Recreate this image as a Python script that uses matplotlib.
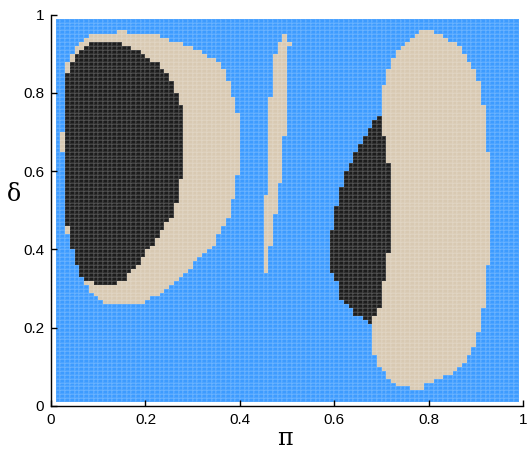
import numpy as np
import matplotlib
matplotlib.use("Agg")
import matplotlib.pyplot as plt
from matplotlib.colors import ListedColormap

# grid of the parameter scan (cell edges)
pi_edges = np.round(np.arange(0.01, 0.995, 0.01), 2)
delta_edges = np.round(np.arange(0.01, 0.995, 0.01), 2)

# each region: top row (lower edge in delta), then one (lo, hi) pi range per row going down
left_tan_top = 0.95
left_tan_lo = [0.14, 0.08, 0.07, 0.06, 0.05, 0.05, 0.04, 0.04, 0.03, 0.03,
               0.03, 0.03, 0.03, 0.03, 0.03, 0.03, 0.03, 0.03, 0.03, 0.03,
               0.03, 0.03, 0.03, 0.03, 0.03, 0.03, 0.02, 0.02, 0.02, 0.02,
               0.02, 0.03, 0.03, 0.03, 0.03, 0.03, 0.03, 0.03, 0.03, 0.03,
               0.03, 0.03, 0.03, 0.03, 0.03, 0.03, 0.03, 0.03, 0.03, 0.03,
               0.03, 0.03, 0.04, 0.04, 0.04, 0.04, 0.05, 0.05, 0.05, 0.05,
               0.06, 0.06, 0.06, 0.07, 0.07, 0.08, 0.08, 0.09, 0.10, 0.11]
left_tan_hi = [0.16, 0.23, 0.25, 0.28, 0.30, 0.32, 0.33, 0.35, 0.36, 0.36,
               0.37, 0.37, 0.37, 0.38, 0.38, 0.38, 0.38, 0.39, 0.39, 0.39,
               0.39, 0.40, 0.40, 0.40, 0.40, 0.40, 0.40, 0.40, 0.40, 0.40,
               0.40, 0.40, 0.40, 0.40, 0.40, 0.40, 0.40, 0.39, 0.39, 0.39,
               0.39, 0.39, 0.39, 0.38, 0.38, 0.38, 0.38, 0.38, 0.37, 0.37,
               0.36, 0.36, 0.35, 0.35, 0.35, 0.34, 0.33, 0.32, 0.31, 0.30,
               0.30, 0.29, 0.28, 0.27, 0.26, 0.25, 0.24, 0.23, 0.21, 0.20, 0.19]

left_black_top = 0.92
left_black_lo = [0.08, 0.07, 0.06, 0.05, 0.05, 0.04, 0.04, 0.04, 0.03, 0.03,
                 0.03, 0.03, 0.03, 0.03, 0.03, 0.03, 0.03, 0.03, 0.03, 0.03,
                 0.03, 0.03, 0.03, 0.03, 0.03, 0.03, 0.03, 0.03, 0.03, 0.03,
                 0.03, 0.03, 0.03, 0.03, 0.03, 0.03, 0.03, 0.03, 0.03, 0.03,
                 0.03, 0.03, 0.03, 0.03, 0.03, 0.03, 0.03, 0.04, 0.04, 0.04,
                 0.04, 0.04, 0.04, 0.05, 0.05, 0.05, 0.05, 0.06, 0.06, 0.06,
                 0.07, 0.09]
left_black_hi = [0.15, 0.17, 0.19, 0.20, 0.21, 0.23, 0.23, 0.24, 0.25, 0.25,
                 0.26, 0.26, 0.26, 0.27, 0.27, 0.27, 0.28, 0.28, 0.28, 0.28,
                 0.28, 0.28, 0.28, 0.28, 0.28, 0.28, 0.28, 0.28, 0.28, 0.28,
                 0.28, 0.28, 0.28, 0.28, 0.28, 0.27, 0.27, 0.27, 0.27, 0.27,
                 0.27, 0.26, 0.26, 0.26, 0.26, 0.25, 0.24, 0.24, 0.23, 0.23,
                 0.22, 0.22, 0.21, 0.20, 0.20, 0.19, 0.19, 0.18, 0.17, 0.16,
                 0.16, 0.14]

sliver_top = 0.94
sliver_lo = [0.49, 0.49, 0.48, 0.48, 0.48, 0.47, 0.47, 0.47, 0.47, 0.47,
             0.47, 0.47, 0.47, 0.47, 0.47, 0.47, 0.46, 0.46, 0.46, 0.46,
             0.46, 0.46, 0.46, 0.46, 0.46, 0.46, 0.46, 0.46, 0.46, 0.46,
             0.46, 0.46, 0.46, 0.46, 0.46, 0.46, 0.46, 0.46, 0.46, 0.46,
             0.46, 0.45, 0.45, 0.45, 0.45, 0.45, 0.45, 0.45, 0.45, 0.45,
             0.45, 0.45, 0.45, 0.45, 0.45, 0.45, 0.45, 0.45, 0.45, 0.45, 0.45]
sliver_hi = [0.50, 0.50, 0.51, 0.50, 0.50, 0.50, 0.50, 0.50, 0.50, 0.50,
             0.50, 0.50, 0.50, 0.50, 0.50, 0.50, 0.50, 0.50, 0.50, 0.50,
             0.50, 0.50, 0.50, 0.50, 0.50, 0.50, 0.49, 0.49, 0.49, 0.49,
             0.49, 0.49, 0.49, 0.49, 0.49, 0.49, 0.49, 0.49, 0.48, 0.48,
             0.48, 0.48, 0.48, 0.48, 0.48, 0.48, 0.47, 0.47, 0.47, 0.47,
             0.47, 0.47, 0.47, 0.47, 0.46, 0.46, 0.46, 0.46, 0.46, 0.46, 0.46]

right_tan_top = 0.95
right_tan_lo = [0.78, 0.77, 0.76, 0.75, 0.74, 0.73, 0.73, 0.72, 0.72, 0.72,
                0.71, 0.71, 0.71, 0.71, 0.70, 0.70, 0.70, 0.70, 0.70, 0.70,
                0.70, 0.70, 0.70, 0.70, 0.70, 0.70, 0.70, 0.71, 0.71, 0.71,
                0.71, 0.71, 0.71, 0.71, 0.72, 0.72, 0.72, 0.72, 0.72, 0.72,
                0.72, 0.72, 0.72, 0.72, 0.72, 0.72, 0.72, 0.72, 0.72, 0.72,
                0.72, 0.72, 0.72, 0.72, 0.72, 0.72, 0.72, 0.71, 0.71, 0.71,
                0.71, 0.71, 0.71, 0.71, 0.70, 0.70, 0.70, 0.70, 0.70, 0.70,
                0.70, 0.69, 0.69, 0.68, 0.68, 0.68, 0.68, 0.68, 0.68, 0.68,
                0.68, 0.68, 0.68, 0.69, 0.69, 0.69, 0.70, 0.71, 0.71, 0.72,
                0.73, 0.76]
right_tan_hi = [0.81, 0.83, 0.84, 0.86, 0.87, 0.87, 0.88, 0.88, 0.89, 0.89,
                0.90, 0.90, 0.90, 0.91, 0.91, 0.91, 0.91, 0.91, 0.91, 0.92,
                0.92, 0.92, 0.92, 0.92, 0.92, 0.92, 0.92, 0.92, 0.92, 0.92,
                0.92, 0.93, 0.93, 0.93, 0.93, 0.93, 0.93, 0.93, 0.93, 0.93,
                0.93, 0.93, 0.93, 0.93, 0.93, 0.93, 0.93, 0.93, 0.93, 0.93,
                0.93, 0.93, 0.93, 0.93, 0.93, 0.93, 0.93, 0.93, 0.93, 0.93,
                0.92, 0.92, 0.92, 0.92, 0.92, 0.92, 0.92, 0.92, 0.92, 0.92,
                0.92, 0.91, 0.91, 0.91, 0.91, 0.91, 0.91, 0.90, 0.90, 0.90,
                0.90, 0.89, 0.89, 0.88, 0.88, 0.87, 0.86, 0.85, 0.83, 0.81,
                0.79, 0.79]

right_black_top = 0.73
right_black_lo = [0.69, 0.68, 0.68, 0.67, 0.67, 0.66, 0.66, 0.65, 0.65, 0.64,
                  0.64, 0.64, 0.63, 0.63, 0.62, 0.62, 0.62, 0.62, 0.61, 0.61,
                  0.61, 0.61, 0.61, 0.60, 0.60, 0.60, 0.60, 0.60, 0.60, 0.59,
                  0.59, 0.59, 0.59, 0.59, 0.59, 0.59, 0.59, 0.59, 0.59, 0.59,
                  0.60, 0.60, 0.61, 0.61, 0.61, 0.61, 0.61, 0.62, 0.63, 0.64,
                  0.64, 0.66, 0.67]
right_black_hi = [0.70, 0.70, 0.70, 0.70, 0.70, 0.71, 0.71, 0.71, 0.71, 0.71,
                  0.71, 0.71, 0.72, 0.72, 0.72, 0.72, 0.72, 0.72, 0.72, 0.72,
                  0.72, 0.72, 0.72, 0.72, 0.72, 0.72, 0.72, 0.72, 0.72, 0.72,
                  0.72, 0.72, 0.72, 0.72, 0.72, 0.71, 0.71, 0.71, 0.71, 0.71,
                  0.71, 0.71, 0.70, 0.70, 0.70, 0.70, 0.70, 0.70, 0.70, 0.69,
                  0.69, 0.68, 0.68]

ticks = [0, 0.2, 0.4, 0.6, 0.8, 1]
tick_labels = ["0", "0.2", "0.4", "0.6", "0.8", "1"]

BLUE, TAN, BLACK = 0, 1, 2
colors = ["#3d9bff", "#d8c9b2", "#1c1c1c"]


def paint(grid, top, lo, hi, value):
    for k in range(len(lo)):
        row = int(round((top - 0.01 * k - 0.01) * 100))
        c0 = int(round((lo[k] - 0.01) * 100))
        c1 = int(round((hi[k] - 0.01) * 100))
        grid[row, c0:c1] = value


ncell = len(pi_edges) - 1
grid = np.full((ncell, ncell), BLUE)
paint(grid, left_tan_top, left_tan_lo, left_tan_hi, TAN)
paint(grid, left_black_top, left_black_lo, left_black_hi, BLACK)
paint(grid, sliver_top, sliver_lo, sliver_hi, TAN)
paint(grid, right_tan_top, right_tan_lo, right_tan_hi, TAN)
paint(grid, right_black_top, right_black_lo, right_black_hi, BLACK)

fig = plt.figure(figsize=(5.29, 4.55), dpi=100)
ax = fig.add_axes([0.0964, 0.1077, 0.893, 0.860])
ax.pcolormesh(pi_edges, delta_edges, grid, cmap=ListedColormap(colors),
              vmin=-0.5, vmax=2.5, edgecolors=(1, 1, 1, 0.09), linewidth=0.3)

ax.set_xlim(0, 1)
ax.set_ylim(0, 1)
for side in ["top", "right"]:
    ax.spines[side].set_visible(False)
for side in ["left", "bottom"]:
    ax.spines[side].set_linewidth(1.0)
ax.tick_params(direction="in", length=4, width=1, labelsize=11)
ax.set_xticks(ticks)
ax.set_xticklabels(tick_labels, fontfamily="Liberation Sans")
ax.set_yticks(ticks)
ax.set_yticklabels(tick_labels, fontfamily="Liberation Sans")
ax.tick_params(axis="x", pad=5)
ax.tick_params(axis="y", pad=5)

ax.set_xlabel("π", fontsize=17, fontfamily="DejaVu Serif", va="center")
ax.xaxis.set_label_coords(0.495, -0.082)
ax.set_ylabel("δ", fontsize=17, fontfamily="DejaVu Serif", rotation=0,
              va="center", ha="center")
ax.yaxis.set_label_coords(-0.078, 0.54)

fig.savefig("out.png", dpi=100)
